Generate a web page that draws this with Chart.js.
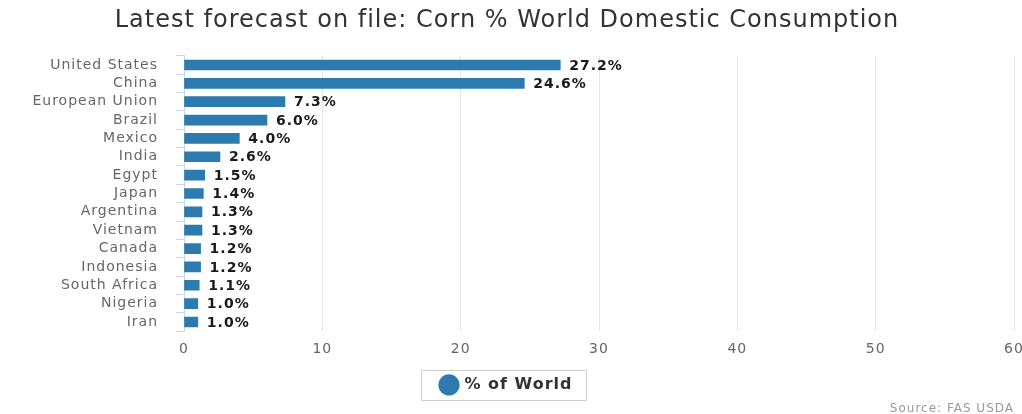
<!DOCTYPE html>
<html>
<head>
<meta charset="utf-8">
<title>Corn % World Domestic Consumption</title>
<script src="https://cdn.jsdelivr.net/npm/chart.js@4/dist/chart.umd.min.js"></script>
<style>
  html, body { margin: 0; padding: 0; background: #fff; }
  #wrap { width: 1022px; height: 414px; }
</style>
</head>
<body>
<div id="wrap"><canvas id="chart" width="1022" height="414"></canvas></div>
<script>
const countries = ['United States', 'China', 'European Union', 'Brazil', 'Mexico', 'India', 'Egypt', 'Japan',
  'Argentina', 'Vietnam', 'Canada', 'Indonesia', 'South Africa', 'Nigeria', 'Iran'];
const shareOfWorld = [27.2, 24.6, 7.3, 6.0, 4.0, 2.6, 1.5, 1.4, 1.3, 1.3, 1.2, 1.2, 1.1, 1.0, 1.0];
const xTicks = [0, 10, 20, 30, 40, 50, 60];

const BAR = '#2d7bae';
const FONT = '"DejaVu Sans", Verdana, sans-serif';

// slightly wider lettering for all chart text
const spacing = {
  id: 'spacing',
  beforeUpdate(chart) { chart.ctx.letterSpacing = '1px'; },
  beforeDraw(chart) { chart.ctx.letterSpacing = '1px'; }
};

// value labels to the right of each bar
const barLabels = {
  id: 'barLabels',
  afterDatasetsDraw(chart) {
    const ctx = chart.ctx;
    const meta = chart.getDatasetMeta(0);
    ctx.save();
    ctx.font = 'bold 14px ' + FONT;
    ctx.fillStyle = '#1a1a1a';
    ctx.textBaseline = 'middle';
    meta.data.forEach((bar, i) => {
      ctx.fillText(shareOfWorld[i].toFixed(1) + '%', bar.x + 9, bar.y + 1);
    });
    ctx.restore();
  }
};

// thin frame around the legend item
const legendFrame = {
  id: 'legendFrame',
  afterDraw(chart) {
    const boxes = chart.legend && chart.legend.legendHitBoxes;
    if (!boxes || !boxes.length) return;
    const b = boxes[0];
    const ctx = chart.ctx;
    const cy = b.top + b.height / 2;
    ctx.save();
    ctx.strokeStyle = '#cfcfcf';
    ctx.lineWidth = 1;
    ctx.strokeRect(Math.round(b.left - 20) + 0.5, Math.round(cy - 15) + 0.5, Math.round(b.width + 34), 30);
    ctx.restore();
  }
};

new Chart(document.getElementById('chart'), {
  type: 'bar',
  data: {
    labels: countries,
    datasets: [{
      label: '% of World',
      data: shareOfWorld,
      backgroundColor: BAR,
      borderWidth: 0,
      barThickness: 10,
      minBarLength: 3
    }]
  },
  options: {
    indexAxis: 'y',
    responsive: false,
    animation: false,
    layout: { padding: { left: 0, right: 8, top: 0, bottom: 0 } },
    scales: {
      x: {
        min: 0,
        max: 60,
        afterBuildTicks: s => { s.ticks = xTicks.map(v => ({ value: v })); },
        afterFit: s => { s.paddingRight = 0; },
        grid: { color: '#e4e4e4', drawTicks: false },
        border: { display: false },
        ticks: { color: '#666', padding: 10, font: { family: FONT, size: 14 } }
      },
      y: {
        afterFit: s => { s.width = 184; },
        grid: { drawOnChartArea: false, color: '#ccd6eb', tickLength: 8, offset: true },
        border: { color: '#ccd6eb' },
        ticks: { color: '#666', padding: 18, autoSkip: false, font: { family: FONT, size: 14 } }
      }
    },
    plugins: {
      title: {
        display: true,
        text: 'Latest forecast on file: Corn % World Domestic Consumption',
        color: '#333',
        font: { family: FONT, size: 24, weight: 'normal' },
        padding: { top: 6, bottom: 21 }
      },
      legend: {
        position: 'bottom',
        labels: {
          usePointStyle: true,
          pointStyle: 'circle',
          boxWidth: 15,
          boxHeight: 15,
          padding: 9,
          color: '#333',
          font: { family: FONT, size: 16, weight: 'bold' }
        }
      },
      subtitle: {
        display: true,
        position: 'bottom',
        align: 'end',
        text: 'Source: FAS USDA',
        color: '#999',
        font: { family: FONT, size: 12, lineHeight: 0.92 },
        padding: { top: 0, bottom: 0 }
      },
      tooltip: { enabled: false }
    }
  },
  plugins: [spacing, barLabels, legendFrame]
});
</script>
</body>
</html>
